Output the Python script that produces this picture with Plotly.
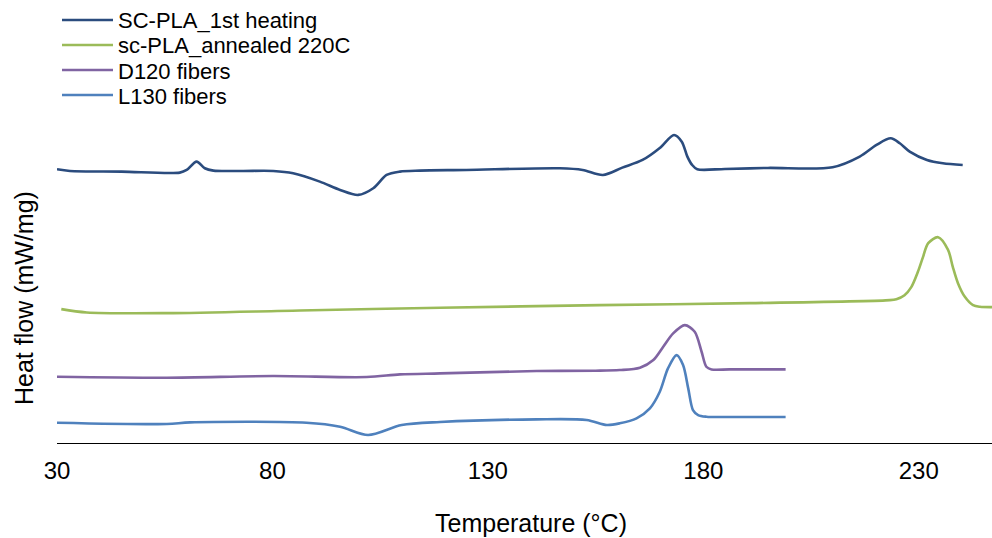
import plotly.graph_objects as go

# DSC thermograms, curves offset vertically for readability (arbitrary heat-flow units)
names = ["SC-PLA_1st heating", "sc-PLA_annealed 220C", "D120 fibers", "L130 fibers"]
colors = ["#2B4C7E", "#9BBB59", "#8064A2", "#4F81BD"]

sc_pla_t = [30, 33, 45, 58.5, 60.1, 62.4, 64.3, 66.3, 73, 80.2, 84.8, 91.0, 95.7, 99.9,
            103.4, 106.5, 109.6, 114.2, 125, 146.7, 152, 156.7, 161.2, 165.9, 169.9, 173.2,
            175.0, 176.3, 177.4, 178.6, 185, 195, 210, 216.3, 220.2, 223.5, 225.6, 227.9,
            231.9, 235.6, 240.2]
sc_pla_hf = [8.22, 8.17, 8.15, 8.12, 8.20, 8.45, 8.25, 8.18, 8.17, 8.17, 8.10, 7.85, 7.60, 7.45,
             7.65, 8.05, 8.15, 8.18, 8.20, 8.25, 8.20, 8.05, 8.27, 8.50, 8.86, 9.25,
             9.05, 8.60, 8.35, 8.22, 8.23, 8.26, 8.28, 8.60, 8.95, 9.15, 9.00, 8.75,
             8.50, 8.40, 8.35]

annealed_t = [31, 36.9, 55.5, 86.4, 118.9, 156, 190.8, 223.3, 224.8, 226.7, 228.3, 229.8,
              231.0, 232.2, 234.5, 236.8, 237.9, 239.1, 240.7, 242.6, 244.2, 247]
annealed_hf = [4.02, 3.92, 3.90, 3.98, 4.06, 4.14, 4.20, 4.29, 4.32, 4.44, 4.69, 5.14,
               5.59, 6.00, 6.18, 5.80, 5.29, 4.80, 4.39, 4.14, 4.09, 4.08]

d120_t = [30, 55.5, 80.1, 101.9, 109.6, 118.9, 141.3, 155, 160.6, 165.3, 168.4, 170.7,
          173.0, 175.7, 178.0, 179.6, 180.7, 181.9, 186.1, 199.1]
d120_hf = [1.99, 1.96, 2.01, 1.98, 2.06, 2.09, 2.16, 2.17, 2.19, 2.26, 2.49, 2.89,
           3.29, 3.54, 3.34, 2.74, 2.29, 2.21, 2.21, 2.21]

l130_t = [30, 55.5, 60.9, 87.9, 95.7, 102.2, 110, 118.9, 141.3, 152.9, 157.6, 160.6, 164.5,
          167.6, 169.9, 171.8, 173.8, 175.3, 176.5, 177.6, 178.8, 180.7, 186, 199.1]
l130_hf = [0.61, 0.57, 0.62, 0.61, 0.49, 0.24, 0.54, 0.63, 0.71, 0.69, 0.54, 0.59, 0.74,
           1.04, 1.54, 2.24, 2.64, 2.34, 1.64, 0.99, 0.84, 0.79, 0.78, 0.78]

tick_vals = [30, 80, 130, 180, 230]

FONT = "Liberation Sans, Arial, sans-serif"
W, H = 992, 538
ML, MR, MT, MB = 57, 0, 110, 95
PW, PH = W - ML - MR, H - MT - MB


def px_to_paper_x(px):
    return (px - ML) / PW


def px_to_paper_y(py):
    return (H - MB - py) / PH


fig = go.Figure()
series = [(sc_pla_t, sc_pla_hf), (annealed_t, annealed_hf), (d120_t, d120_hf), (l130_t, l130_hf)]
for (t, hf), name, color in zip(series, names, colors):
    fig.add_trace(go.Scatter(
        x=t, y=hf, mode="lines", name=name, showlegend=False,
        line=dict(color=color, width=2.6, shape="spline", smoothing=0.85),
    ))

# legend drawn as line samples plus labels above the plot area
legend_rows = [20, 45, 70, 95]
shapes, annotations = [], []
for name, color, py in zip(names, colors, legend_rows):
    shapes.append(dict(type="line", xref="paper", yref="paper",
                       x0=px_to_paper_x(62), x1=px_to_paper_x(113),
                       y0=px_to_paper_y(py), y1=px_to_paper_y(py),
                       line=dict(color=color, width=2.6)))
    annotations.append(dict(text=name, xref="paper", yref="paper",
                            x=px_to_paper_x(117), y=px_to_paper_y(py + 1),
                            xanchor="left", yanchor="middle", showarrow=False,
                            borderpad=0,
                            font=dict(family=FONT, size=22, color="black")))

annotations.append(dict(text="Heat flow (mW/mg)", xref="paper", yref="paper",
                        x=px_to_paper_x(24), y=px_to_paper_y(298), textangle=-90,
                        xanchor="center", yanchor="middle", showarrow=False,
                        font=dict(family=FONT, size=25, color="black")))
annotations.append(dict(text="Temperature (°C)", xref="paper", yref="paper",
                        x=px_to_paper_x(531), y=px_to_paper_y(523),
                        xanchor="center", yanchor="middle", showarrow=False,
                        font=dict(family=FONT, size=25, color="black")))

fig.update_layout(
    width=W, height=H,
    margin=dict(l=ML, r=MR, t=MT, b=MB),
    paper_bgcolor="white", plot_bgcolor="white",
    font=dict(family=FONT, size=24, color="black"),
    shapes=shapes, annotations=annotations,
    xaxis=dict(range=[30, 247], tickvals=tick_vals, ticktext=[str(v) for v in tick_vals],
               showgrid=False, zeroline=False, showline=True, linecolor="black",
               linewidth=1, ticks="", ticklabelstandoff=6,
               tickfont=dict(family=FONT, size=24, color="black")),
    yaxis=dict(range=[0, 10], visible=False, showgrid=False, zeroline=False),
)

fig.write_html("out.html")
